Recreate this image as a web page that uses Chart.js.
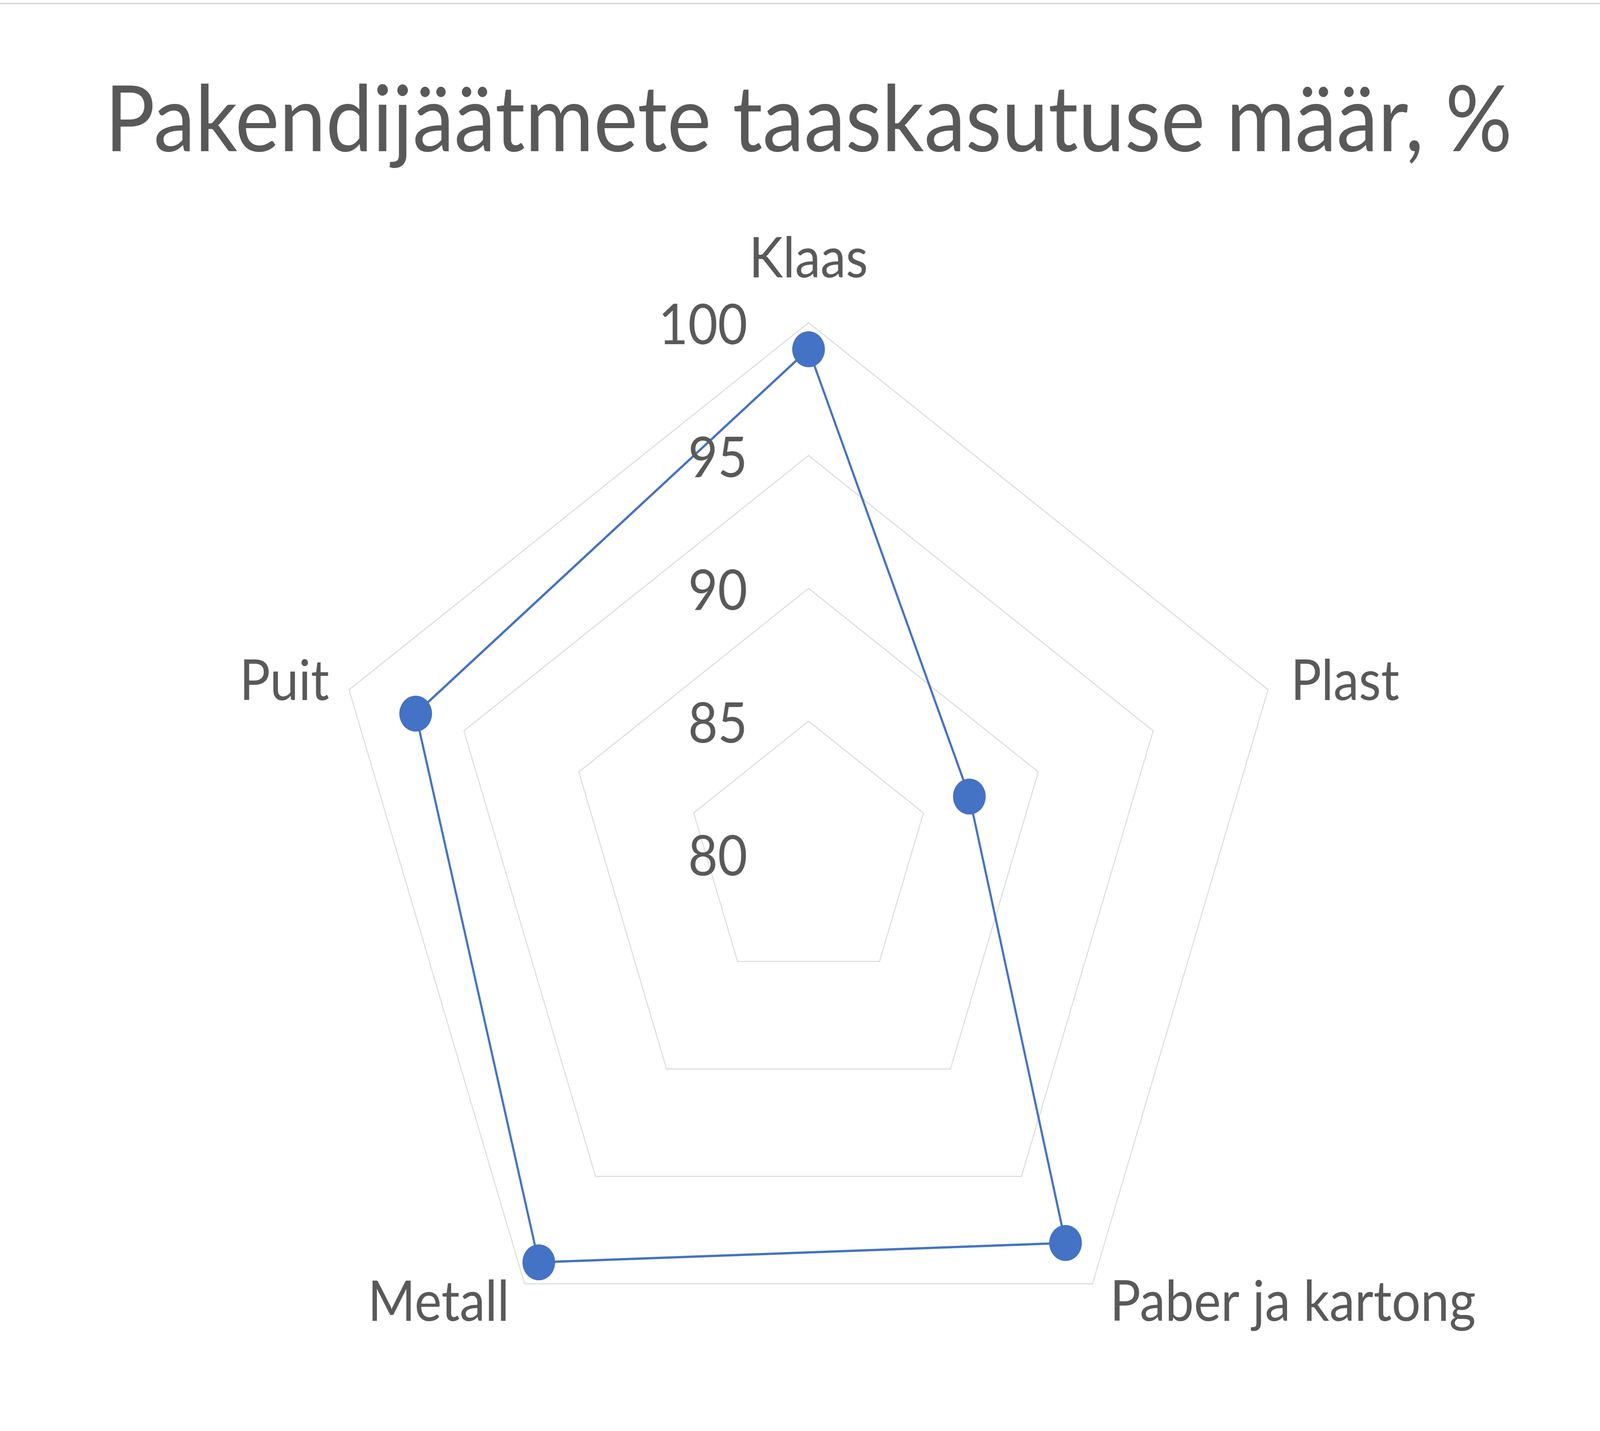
<!DOCTYPE html>
<html>
<head>
<meta charset="utf-8">
<title>Pakendijäätmete taaskasutuse määr</title>
<script src="https://cdn.jsdelivr.net/npm/chart.js@4.4.1/dist/chart.umd.min.js"></script>
<style>
  html, body { margin: 0; padding: 0; background: #fff; overflow: hidden; }
  /* chart is laid out on a 4504 x 3663 canvas and stretched to whatever the window is */
  #chart { display: block; width: 100vw !important; height: 100vh !important; }
</style>
</head>
<body>
<canvas id="chart" width="4504" height="3663"></canvas>
<script>
// Data
const categories = ["Klaas", "Plast", "Paber ja kartong", "Metall", "Puit"];
const values = [99.0, 87.0, 98.1, 99.0, 97.1];
const scaleMin = 80;
const scaleMax = 100;
const scaleStep = 5;

const textColor = "#595959";
const lineColor = "#4472C4";
const fontFamily = "Lato, 'Noto Sans', sans-serif";

// Thin grey border line across the top
const topLine = {
    id: "topLine",
    beforeDraw(chart) {
        const ctx = chart.ctx;
        ctx.save();
        ctx.fillStyle = "#ffffff";
        ctx.fillRect(0, 0, chart.width, chart.height);
        ctx.fillStyle = "#dadada";
        ctx.fillRect(0, 7, chart.width, 4);
        ctx.restore();
    }
};

// Tick labels left of the vertical axis, category labels outside the web
const radarLabels = {
    id: "radarLabels",
    afterDatasetsDraw(chart) {
        const scale = chart.scales.r;
        const ctx = chart.ctx;
        const cx = scale.xCenter;
        const cy = scale.yCenter;
        ctx.save();
        ctx.fillStyle = textColor;

        ctx.font = "144px " + fontFamily;
        ctx.textAlign = "right";
        ctx.textBaseline = "middle";
        scale.ticks.forEach(tick => {
            const d = scale.getDistanceFromCenterForValue(tick.value);
            ctx.fillText(String(tick.value), cx - 172, cy - d + 9);
        });

        const outer = scale.getDistanceFromCenterForValue(scaleMax);
        categories.forEach((label, i) => {
            const p = scale.getPointPosition(i, outer);
            if (Math.abs(p.x - cx) < 2) {
                ctx.textAlign = "center";
                ctx.textBaseline = "alphabetic";
                ctx.fillText(label, p.x, p.y - 116);
            } else if (p.y < cy) {
                const right = p.x > cx;
                ctx.textAlign = right ? "left" : "right";
                ctx.textBaseline = "middle";
                ctx.fillText(label, p.x + (right ? 64 : -56), p.y - 20);
            } else {
                const right = p.x > cx;
                ctx.textAlign = right ? "left" : "right";
                ctx.textBaseline = "alphabetic";
                ctx.fillText(label, p.x + (right ? 49 : -43), p.y + 95);
            }
        });
        ctx.restore();
    }
};

const titleSize = 235;

new Chart(document.getElementById("chart").getContext("2d"), {
    type: "radar",
    data: {
        labels: categories,
        datasets: [{
            label: "Taaskasutuse määr, %",
            data: values,
            borderColor: lineColor,
            borderWidth: 6,
            backgroundColor: "rgba(0,0,0,0)",
            fill: false,
            pointRadius: 46,
            pointHoverRadius: 46,
            pointBackgroundColor: lineColor,
            pointBorderColor: lineColor,
            pointBorderWidth: 0
        }]
    },
    options: {
        responsive: false,
        devicePixelRatio: 1,
        animation: false,
        layout: {
            padding: { left: 48, right: 0, top: 0, bottom: 117 }
        },
        elements: {
            line: { tension: 0 }
        },
        scales: {
            r: {
                min: scaleMin,
                max: scaleMax,
                beginAtZero: false,
                angleLines: { display: false },
                grid: { color: "#d9d9d9", lineWidth: 2.5, circular: false },
                pointLabels: { display: false },
                ticks: { display: false, stepSize: scaleStep }
            }
        },
        plugins: {
            legend: { display: false },
            tooltip: { enabled: false },
            title: {
                display: true,
                text: "Pakendijäätmete taaskasutuse määr, %",
                color: textColor,
                font: { family: fontFamily, size: titleSize, weight: "normal", lineHeight: 1.2 },
                padding: { top: 170, bottom: 826 - 170 - titleSize * 1.2 }
            }
        }
    },
    plugins: [topLine, radarLabels]
});
</script>
</body>
</html>
